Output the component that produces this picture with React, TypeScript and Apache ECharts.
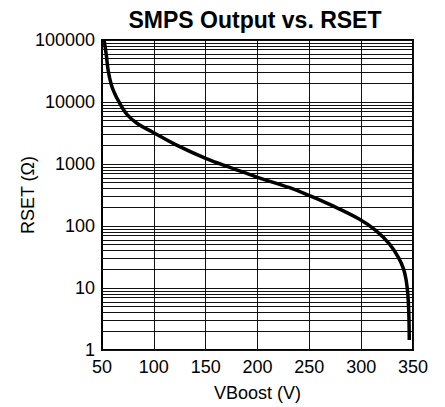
import React, { useEffect, useRef } from "react";
import * as echarts from "echarts";

const vboost = [52, 54, 56, 59, 62, 66, 74, 84, 99, 121, 150, 176, 200, 231, 250, 269, 298, 314, 327, 336, 341, 343.5, 345, 346, 346.4];
const rset = [100000, 60000, 32000, 19000, 14000, 10300, 6300, 4500, 3250, 2050, 1230, 850, 610, 415, 310, 225, 130, 85, 52, 31, 20, 13, 8, 3.7, 1.45];
const decades = [1, 10, 100, 1000, 10000];
const minorSteps = [2, 3, 4, 5, 6, 7, 8, 9];

const FONT = "'Liberation Sans', Arial, Helvetica, sans-serif";

export default function App() {
  const ref = useRef<HTMLDivElement>(null);
  useEffect(() => {
    if (!ref.current) return;
    const chart = echarts.init(ref.current, null, { renderer: "svg" });
    const gridValues: number[] = [];
    decades.forEach((d) => {
      gridValues.push(d);
      minorSteps.forEach((m) => gridValues.push(d * m));
    });
    gridValues.push(100000);
    chart.setOption({
      animation: false,
      backgroundColor: "#fff",
      title: {
        text: "SMPS Output vs. RSET",
        left: 250,
        top: 3,
        textAlign: "center",
        textStyle: { fontFamily: FONT, fontWeight: "bold", fontSize: 23, color: "#000" },
      },
      grid: {
        left: 102,
        top: 40,
        width: 311,
        height: 312,
        show: true,
        borderColor: "#000",
        borderWidth: 2,
        backgroundColor: "transparent",
      },
      xAxis: {
        type: "value",
        min: 50,
        max: 350,
        interval: 50,
        name: "VBoost (V)",
        nameLocation: "middle",
        nameGap: 34,
        nameMoveOverlap: false,
        nameTextStyle: { fontFamily: FONT, fontSize: 18, color: "#000" },
        axisLine: { show: true, lineStyle: { color: "#000", width: 2 } },
        axisTick: { show: false },
        axisLabel: { margin: 8, fontFamily: FONT, fontSize: 18, color: "#000" },
        splitLine: { show: true, lineStyle: { color: "#111", width: 1 } },
      },
      yAxis: {
        type: "log",
        logBase: 10,
        min: 1,
        max: 100000,
        name: "RSET (Ω)",
        nameLocation: "middle",
        nameGap: 65,
        nameMoveOverlap: false,
        nameTextStyle: { fontFamily: FONT, fontSize: 18, color: "#000" },
        axisLine: { show: true, lineStyle: { color: "#000", width: 2 } },
        axisTick: { show: false },
        axisLabel: {
          margin: 7,
          fontFamily: FONT,
          fontSize: 18,
          color: "#000",
          formatter: (v: number) => String(Math.round(v)),
        },
        splitLine: { show: false },
      },
      series: [
        {
          type: "line",
          data: vboost.map((v, i) => [v, rset[i]]),
          smooth: 0.4,
          showSymbol: false,
          lineStyle: { color: "#000", width: 3.5 },
          z: 5,
          markLine: {
            silent: true,
            symbol: ["none", "none"],
            label: { show: false },
            lineStyle: { color: "#111", width: 1, type: "solid" },
            data: gridValues.map((g) => ({ yAxis: g })),
            z: 1,
          },
        },
      ],
    });
    return () => chart.dispose();
  }, []);
  return (
    <div
      ref={ref}
      style={{ position: "fixed", left: 0, top: 0, width: 445, height: 407, background: "#fff" }}
    />
  );
}
